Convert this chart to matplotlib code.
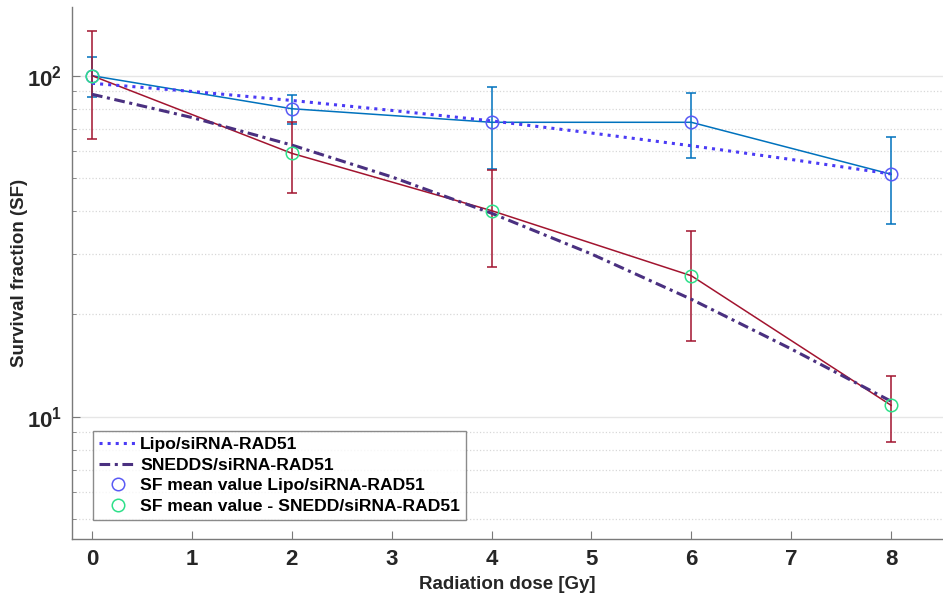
import matplotlib
matplotlib.use("Agg")
import matplotlib.pyplot as plt
from matplotlib.ticker import LogLocator, NullFormatter

plt.rcParams['font.family'] = ['Liberation Sans', 'DejaVu Sans']
plt.rcParams['font.weight'] = 'bold'

# dose points and measured survival fraction
dose = [0, 2, 4, 6, 8]
sf_lipo = [100, 80, 73, 73, 51.4]
err_lipo = [13.5, 7.8, 19.6, 15.7, 14.6]
sf_snedds = [100, 59.2, 40.2, 25.9, 10.8]
err_snedds = [35, 14, 12.7, 9.2, 2.35]

# fitted curves (LQ model) sampled at every Gy
fit_dose = [0, 1, 2, 3, 4, 5, 6, 7, 8]
fit_lipo = [95.0, 89.9, 84.6, 79.1, 73.7, 67.9, 62.3, 56.8, 51.5]
fit_snedds = [88.2, 75.4, 62.6, 50.5, 39.5, 30.0, 22.1, 15.8, 11.1]

fig = plt.figure(figsize=(9.43, 5.99), dpi=100)
ax = fig.add_axes([0.0764, 0.0997, 0.9236, 0.8886])

ax.errorbar(dose, sf_lipo, yerr=err_lipo, color='#0072BD', lw=1.1,
            capsize=3.5, capthick=1.1, elinewidth=1.1, zorder=2)
ax.errorbar(dose, sf_snedds, yerr=err_snedds, color='#A2142F', lw=1.1,
            capsize=3.5, capthick=1.1, elinewidth=1.1, zorder=2)

l1, = ax.plot(fit_dose, fit_lipo, ls=':', color='#4B3BF5', lw=2.2,
              label='Lipo/siRNA-RAD51', zorder=3)
l2, = ax.plot(fit_dose, fit_snedds, color='#4A3080', lw=2.2,
              dashes=(3.5, 1.5, 1, 1.5),
              label='SNEDDS/siRNA-RAD51', zorder=3)
m1, = ax.plot(dose, sf_lipo, 'o', mfc='none', mec='#5A5AF5', ms=9, mew=1.1,
              label='SF mean value Lipo/siRNA-RAD51', zorder=4)
m2, = ax.plot(dose, sf_snedds, 'o', mfc='none', mec='#2EE08A', ms=9, mew=1.1,
              label='SF mean value - SNEDD/siRNA-RAD51', zorder=4)

ax.set_yscale('log')
ax.set_xlim(-0.2, 8.52)
ax.set_ylim(4.37, 159)
ax.set_xticks(range(0, 9))
ax.yaxis.set_major_locator(LogLocator(base=10, numticks=10))
ax.yaxis.set_minor_locator(LogLocator(base=10, subs=range(2, 10), numticks=10))
ax.yaxis.set_minor_formatter(NullFormatter())

ax.grid(True, which='major', axis='y', color='#e6e6e6', lw=1.0)
ax.grid(True, which='minor', axis='y', color='#d8d8d8', ls=':', lw=0.9)
ax.set_axisbelow(True)

for side in ['top', 'right']:
    ax.spines[side].set_visible(False)
for side in ['left', 'bottom']:
    ax.spines[side].set_color('#7a7a7a')
    ax.spines[side].set_linewidth(1.0)

ax.tick_params(axis='both', which='both', direction='in', color='#7a7a7a')
ax.tick_params(axis='both', which='major', length=6, labelsize=16, pad=7)
ax.tick_params(axis='y', which='minor', length=3)
for lab in ax.get_xticklabels() + ax.get_yticklabels():
    lab.set_fontweight('bold')
    lab.set_color('#262626')

ax.set_xlabel('Radiation dose [Gy]', fontsize=13.5, fontweight='bold',
              color='#262626', labelpad=4)
ax.set_ylabel('Survival fraction (SF)', fontsize=13.5, fontweight='bold',
              color='#262626')
ax.yaxis.set_label_coords(-0.05, 0.5)

leg = ax.legend(handles=[l1, l2, m1, m2], loc='lower left',
                bbox_to_anchor=(0.024, 0.036), fontsize=12.6, frameon=True,
                fancybox=False, edgecolor='#6e6e6e', handlelength=2.15,
                handletextpad=0.2, borderpad=0.35, labelspacing=0.3,
                borderaxespad=0)
leg.get_frame().set_linewidth(1.0)
for t in leg.get_texts():
    t.set_fontweight('bold')

fig.savefig('out.png', dpi=100, facecolor='white')
